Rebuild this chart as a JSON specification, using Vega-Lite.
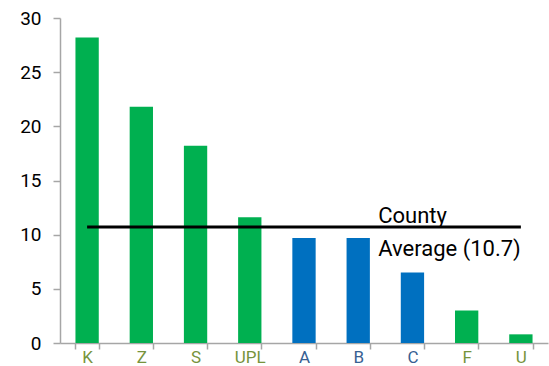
{
  "$schema": "https://vega.github.io/schema/vega-lite/v6.json",
  "width": 488,
  "height": 325,
  "autosize": "none",
  "padding": {"left": 60, "top": 18, "right": 1, "bottom": 23},
  "background": "white",
  "config": {
    "view": {"stroke": null},
    "font": "Roboto",
    "axis": {
      "grid": false,
      "domainColor": "#a6a6a6",
      "tickColor": "#a6a6a6",
      "domainWidth": 1.5,
      "tickWidth": 1.5,
      "labelFont": "Roboto",
      "labelFontSize": 18,
      "title": null
    }
  },
  "datasets": {
    "areas": [
      {"area": "K", "value": 28.2, "group": "g"},
      {"area": "Z", "value": 21.8, "group": "g"},
      {"area": "S", "value": 18.2, "group": "g"},
      {"area": "UPL", "value": 11.6, "group": "g"},
      {"area": "A", "value": 9.7, "group": "b"},
      {"area": "B", "value": 9.7, "group": "b"},
      {"area": "C", "value": 6.5, "group": "b"},
      {"area": "F", "value": 3.0, "group": "g"},
      {"area": "U", "value": 0.8, "group": "g"}
    ],
    "average": [
      {"from": "K", "to": "U", "avg": 10.7, "anchor": "B", "label": ["County", "Average (10.7)"]}
    ]
  },
  "layer": [
    {
      "data": {"name": "areas"},
      "mark": {"type": "bar"},
      "encoding": {
        "x": {
          "field": "area",
          "type": "nominal",
          "sort": null,
          "scale": {"paddingInner": 0.57, "paddingOuter": 0.285},
          "axis": {
            "tickBand": "extent",
            "tickSize": 6,
            "labelPadding": 0,
            "labelFontSize": 17,
            "labelAngle": 0,
            "labelColor": {
              "condition": {"test": "indexof(['A','B','C'], datum.value) >= 0", "value": "#376092"},
              "value": "#77933c"
            }
          }
        },
        "y": {
          "field": "value",
          "type": "quantitative",
          "scale": {"domain": [0, 30]},
          "axis": {"values": [0, 5, 10, 15, 20, 25, 30], "tickSize": 7, "labelPadding": 12, "labelFontSize": 19, "labelColor": "#000000"}
        },
        "color": {
          "field": "group",
          "type": "nominal",
          "scale": {"domain": ["g", "b"], "range": ["#00b050", "#0070c0"]},
          "legend": null
        }
      }
    },
    {
      "data": {"name": "average"},
      "mark": {"type": "rule", "color": "#000000", "strokeWidth": 3},
      "encoding": {
        "x": {"field": "from", "type": "nominal", "sort": null},
        "x2": {"field": "to"},
        "y": {"field": "avg", "type": "quantitative"}
      }
    },
    {
      "data": {"name": "average"},
      "mark": {
        "type": "text",
        "align": "left",
        "baseline": "alphabetic",
        "font": "Roboto",
        "fontSize": 22,
        "lineHeight": 33,
        "dx": 20,
        "dy": -4,
        "color": "#000000"
      },
      "encoding": {
        "x": {"field": "anchor", "type": "nominal", "sort": null},
        "y": {"field": "avg", "type": "quantitative"},
        "text": {"field": "label"}
      }
    }
  ]
}
